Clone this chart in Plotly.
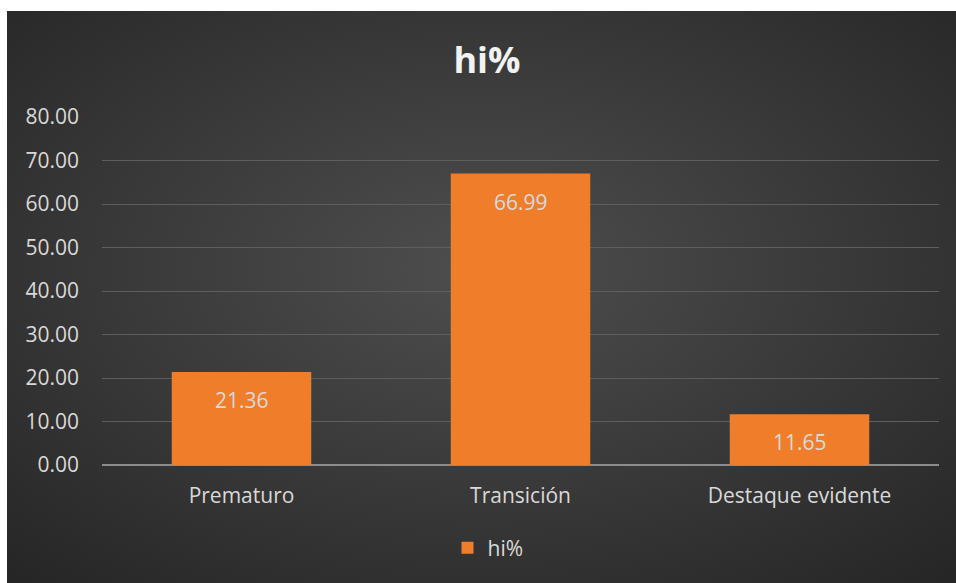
import base64
import plotly.graph_objects as go

# Frequency share by category
categories = ["Prematuro", "Transición", "Destaque evidente"]
hi_pct = [21.36, 66.99, 11.65]
y_ticks = [0, 10, 20, 30, 40, 50, 60, 70, 80]
series_name = "hi%"

TEXT = "#D9D9D9"
FONT = "Open Sans"
BAR = "#F07D2A"

# Radial dark backdrop for the chart panel
svg = (
    '<svg xmlns="http://www.w3.org/2000/svg" width="949" height="572" '
    'preserveAspectRatio="none" viewBox="0 0 949 572">'
    '<defs><radialGradient id="g" cx="50%" cy="45%" r="75%">'
    '<stop offset="0%" stop-color="#4E4E4E"/>'
    '<stop offset="100%" stop-color="#252525"/>'
    '</radialGradient></defs>'
    '<rect width="949" height="572" fill="url(#g)"/></svg>'
)
bg_src = "data:image/svg+xml;base64," + base64.b64encode(svg.encode()).decode()

fig = go.Figure()
fig.add_trace(go.Bar(
    x=categories,
    y=hi_pct,
    name=series_name,
    marker=dict(color=BAR, line=dict(width=0)),
    width=0.5,
    showlegend=True,
))

# Value labels just inside the top of each bar
annotations = [
    dict(x=c, y=v, text=f"{v:.2f}", showarrow=False, yshift=-28,
         yanchor="middle", font=dict(family=FONT, size=21, color=TEXT))
    for c, v in zip(categories, hi_pct)
]

# Plot area spans 102..939 px horizontally and 117..465 px vertically
L, R, T, B = 102, 939, 117, 465
W, H = 956, 583
pw, ph = R - L, B - T
px = lambda x: (x - L) / pw
py = lambda y: (B - y) / ph

fig.update_layout(
    width=W, height=H,
    margin=dict(l=L, r=W - R, t=T, b=H - B, pad=0),
    paper_bgcolor="white",
    plot_bgcolor="rgba(0,0,0,0)",
    images=[dict(source=bg_src, xref="paper", yref="paper",
                 x=px(7), y=py(11), sizex=px(956) - px(7), sizey=py(11) - py(583),
                 xanchor="left", yanchor="top", sizing="stretch", layer="below")],
    title=dict(text="<b>hi%</b>", xref="container", x=487 / W, xanchor="center",
               yref="container", y=1 - 60 / H, yanchor="middle",
               font=dict(family=FONT, size=36, color="#F2F2F2")),
    annotations=annotations,
    xaxis=dict(showgrid=False, showline=False, zeroline=False, ticks="",
               tickfont=dict(family=FONT, size=21, color=TEXT), ticklabelstandoff=16),
    yaxis=dict(range=[0, 80], tickvals=y_ticks, tickformat=".2f",
               showgrid=True, gridcolor="#5E5E5E", gridwidth=1,
               zeroline=True, zerolinecolor="#8C8C8C", zerolinewidth=2,
               showline=False, ticks="", ticklabelstandoff=22,
               tickfont=dict(family=FONT, size=21, color=TEXT)),
    legend=dict(orientation="h", x=px(488), xanchor="center", y=py(548), yanchor="middle",
                font=dict(family=FONT, size=21, color=TEXT), bgcolor="rgba(0,0,0,0)",
                itemwidth=30),
    bargap=0.5,
)

fig.write_html("out.html")
